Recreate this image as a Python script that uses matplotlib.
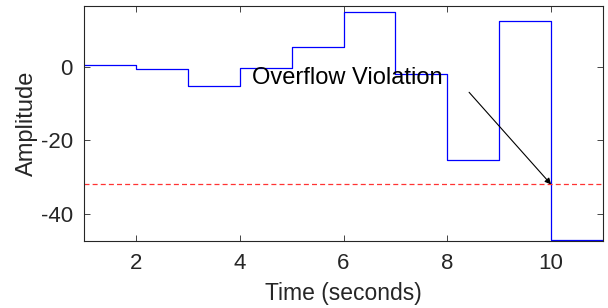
import numpy as np
import matplotlib.pyplot as plt

plt.rcParams['font.family'] = ['Liberation Sans', 'DejaVu Sans']
plt.rcParams['axes.unicode_minus'] = False

# step values, one per second starting at t = 1
t = [1, 2, 3, 4, 5, 6, 7, 8, 9, 10, 11]
amp = [0.4, -0.5, -5.1, -0.3, 5.5, 14.9, -1.9, -25.4, 12.5, -47.0, -47.0]
limite = -32.0
seta_ini = (8.42, -6.9)
seta_fim = (10.0, -32.0)

fig = plt.figure(figsize=(6.08, 3.08), dpi=100)
ax = fig.add_axes([84/608, 67/308, 519/608, 235/308])

ax.step(t, amp, where='post', color='#0000ff', lw=0.9)
ax.axhline(limite, color='#ff3333', ls='--', lw=0.9, dashes=(4, 2.5))

ax.annotate('', xy=seta_fim, xytext=seta_ini,
            arrowprops=dict(arrowstyle='-|>', color='black', lw=0.8,
                            mutation_scale=9, shrinkA=0, shrinkB=0))
ax.text(4.23, -3.0, 'Overflow Violation', fontsize=17, va='center', ha='left')

ax.set_xlim(1, 11)
ax.set_ylim(-47.4, 16.6)
ax.set_xticks([2, 4, 6, 8, 10])
ax.set_yticks([-40, -20, 0])
ax.tick_params(direction='in', top=True, right=True, labelsize=16,
               length=4, width=0.6, colors='#262626')
ax.tick_params(axis='x', pad=8.5)
ax.tick_params(axis='y', pad=8)
for s in ax.spines.values():
    s.set_color('#262626')
    s.set_linewidth(0.8)
ax.set_xlabel('Time (seconds)', fontsize=16.5, color='#262626', labelpad=6)
ax.set_ylabel('Amplitude', fontsize=17, color='#262626', labelpad=2)

fig.savefig('out.png', dpi=100)
